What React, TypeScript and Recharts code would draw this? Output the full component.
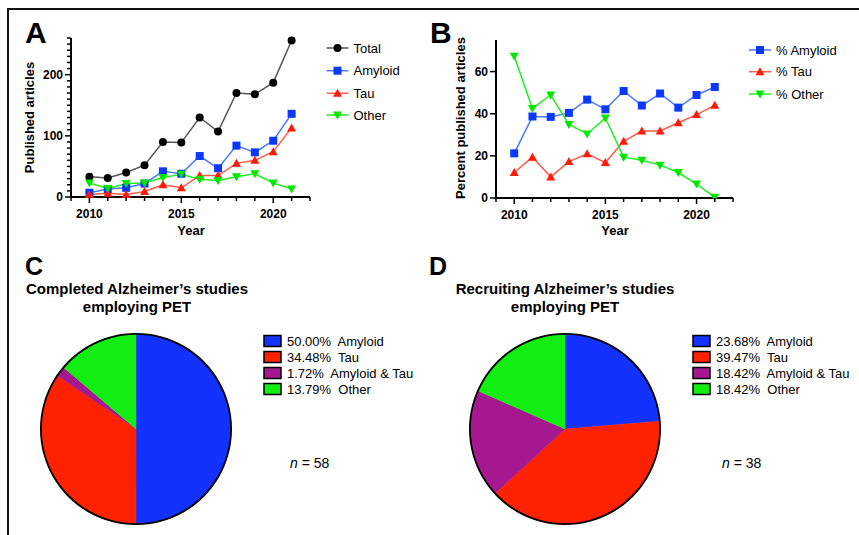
import { Cell, Line, LineChart, Pie, PieChart, XAxis, YAxis } from "recharts"

const F = "'Liberation Sans', Arial, Helvetica, sans-serif"

// panel A / B data
const years = [2010, 2011, 2012, 2013, 2014, 2015, 2016, 2017, 2018, 2019, 2020, 2021]
const total = [33, 31, 40, 52, 90, 89, 130, 107, 170, 168, 187, 256]
const amyloid = [7, 13, 15, 22, 42, 38, 67, 47, 84, 73, 92, 136]
const tau = [4, 6, 4, 9, 20, 15, 35, 35, 55, 60, 74, 113]
const other = [23, 14, 22, 23, 32, 37, 29, 27, 33, 38, 23, 13]

const pctAmyloid = [21.2, 38.7, 38.5, 40.4, 46.7, 42.1, 50.8, 43.9, 49.6, 42.9, 48.9, 52.7]
const pctTau = [12.1, 19.4, 10, 17.3, 21, 16.8, 26.9, 31.8, 31.8, 35.7, 39.6, 44]
const pctOther = [67.3, 42.5, 48.9, 34.9, 30.4, 38, 19.4, 17.9, 15.6, 12.1, 6.6, 0.4]

// ticks
const yearTicks = [2009, 2010, 2011, 2012, 2013, 2014, 2015, 2016, 2017, 2018, 2019, 2020, 2021, 2022]
const yearLabels = [2010, 2015, 2020]
const countTicks = [0, 10, 20, 30, 40, 50, 60, 70, 80, 90, 100, 110, 120, 130, 140, 150, 160, 170, 180, 190, 200, 210, 220, 230, 240, 250, 260]
const countLabels = [0, 100, 200]
const pctTicks = [0, 20, 40, 60]

// panel C / D data
const pieLabels = ["Amyloid", "Tau", "Amyloid & Tau", "Other"]
const completed = [50.0, 34.48, 1.72, 13.79]
const recruiting = [23.68, 39.47, 18.42, 18.42]
const pieColors = ["#1432ff", "#ff2200", "#a5188f", "#12ee12"]

const seriesA = [
  { key: "total", name: "Total", shape: "circle", line: "#555555", mark: "#000000" },
  { key: "amyloid", name: "Amyloid", shape: "square", line: "#4a78ff", mark: "#0a38ff" },
  { key: "tau", name: "Tau", shape: "up", line: "#ff5a4a", mark: "#ff1a0a" },
  { key: "other", name: "Other", shape: "down", line: "#22ee22", mark: "#00e600" },
]
const seriesB = [
  { key: "pctAmyloid", name: "% Amyloid", shape: "square", line: "#4a78ff", mark: "#0a38ff" },
  { key: "pctTau", name: "% Tau", shape: "up", line: "#ff5a4a", mark: "#ff1a0a" },
  { key: "pctOther", name: "% Other", shape: "down", line: "#22ee22", mark: "#00e600" },
]

const dataA = years.map((year, i) => ({ year, total: total[i], amyloid: amyloid[i], tau: tau[i], other: other[i] }))
const dataB = years.map((year, i) => ({ year, pctAmyloid: pctAmyloid[i], pctTau: pctTau[i], pctOther: pctOther[i] }))
const dataC = pieLabels.map((name, i) => ({ name, value: completed[i] }))
const dataD = pieLabels.map((name, i) => ({ name, value: recruiting[i] }))
const ring = [{ name: "outline", value: 1 }]

function Marker({ shape, cx, cy, fill }: any) {
  if (shape === "circle") return <circle cx={cx} cy={cy} r={4} fill={fill} />
  if (shape === "square") return <rect x={cx - 4} y={cy - 4} width={8} height={8} fill={fill} />
  if (shape === "up") return <polygon points={`${cx},${cy - 4.5} ${cx + 4.5},${cy + 3.5} ${cx - 4.5},${cy + 3.5}`} fill={fill} />
  return <polygon points={`${cx},${cy + 4.5} ${cx + 4.5},${cy - 3.5} ${cx - 4.5},${cy - 3.5}`} fill={fill} />
}

const dotFor = (shape: string, fill: string) => (props: any) => (
  <g key={`${shape}-${props.index}`}>
    <Marker shape={shape} cx={props.cx} cy={props.cy} fill={fill} />
  </g>
)

function XTick({ x, y, payload }: any) {
  const major = yearLabels.includes(payload.value)
  return (
    <g>
      <line x1={x} x2={x} y1={y} y2={y + (major ? 6 : 4)} stroke="#000" strokeWidth={1.5} />
      {major && (
        <text x={x} y={y + 21} textAnchor="middle" fontFamily={F} fontWeight="bold" fontSize={12} fill="#000">
          {payload.value}
        </text>
      )}
    </g>
  )
}

const makeYTick = (labels: number[]) => ({ x, y, payload }: any) => {
  const major = labels.includes(payload.value)
  return (
    <g>
      <line x1={x - (major ? 6 : 4)} x2={x} y1={y} y2={y} stroke="#000" strokeWidth={1.5} />
      {major && (
        <text x={x - 8} y={y + 4.3} textAnchor="end" fontFamily={F} fontWeight="bold" fontSize={12} fill="#000">
          {payload.value}
        </text>
      )}
    </g>
  )
}
const YTickA = makeYTick(countLabels)
const YTickB = makeYTick(pctTicks)

const axisLine = { stroke: "#000", strokeWidth: 2 }

function LineLegend({ items, x, ys }: any) {
  return (
    <g>
      {items.map((s: any, i: number) => (
        <g key={s.key}>
          <line x1={x - 11} x2={x + 11} y1={ys[i]} y2={ys[i]} stroke={s.line} strokeWidth={1.5} />
          <Marker shape={s.shape} cx={x} cy={ys[i]} fill={s.mark} />
          <text x={x + 16} y={ys[i] + 4.6} fontFamily={F} fontSize={13} fill="#000">
            {s.name}
          </text>
        </g>
      ))}
    </g>
  )
}

function PieLegend({ x, values }: any) {
  const ys = [341, 357, 373, 389]
  return (
    <g>
      {values.map((v: number, i: number) => (
        <g key={i}>
          <rect x={x} y={ys[i] - 5.5} width={17} height={11} fill={pieColors[i]} stroke="#000" strokeWidth={1.5} />
          <text x={x + 23} y={ys[i] + 4.6} fontFamily={F} fontSize={13} fill="#000" style={{ whiteSpace: "pre" }}>
            {`${v.toFixed(2)}%  ${pieLabels[i]}`}
          </text>
        </g>
      ))}
    </g>
  )
}

function LinePanel({ data, series, domain, yTicks, YTick, margin }: any) {
  return (
    <LineChart width={430} height={240} data={data} margin={margin}>
      <XAxis
        dataKey="year"
        type="number"
        domain={[2009, 2022]}
        ticks={yearTicks}
        interval={0}
        height={30}
        tickSize={0}
        tickMargin={0}
        tickLine={false}
        axisLine={axisLine}
        tick={(p: any) => <XTick {...p} />}
      />
      <YAxis
        type="number"
        domain={domain}
        ticks={yTicks}
        interval={0}
        width={60}
        tickSize={0}
        tickMargin={0}
        tickLine={false}
        axisLine={axisLine}
        tick={(p: any) => <YTick {...p} />}
      />
      {series.map((s: any) => (
        <Line
          key={s.key}
          type="linear"
          dataKey={s.key}
          stroke={s.line}
          strokeWidth={1.5}
          dot={dotFor(s.shape, s.mark)}
          activeDot={false}
          isAnimationActive={false}
        />
      ))}
    </LineChart>
  )
}

function PiePanel({ data, cx }: any) {
  return (
    <PieChart width={430} height={295} margin={{ top: 0, right: 0, bottom: 0, left: 0 }}>
      <Pie
        data={data}
        dataKey="value"
        cx={cx}
        cy={189}
        outerRadius={95}
        startAngle={90}
        endAngle={-270}
        isAnimationActive={false}
      >
        {data.map((d: any, i: number) => (
          <Cell key={d.name} fill={pieColors[i]} stroke={pieColors[i]} strokeWidth={0.5} />
        ))}
      </Pie>
      <Pie
        data={ring}
        dataKey="value"
        cx={cx}
        cy={189}
        innerRadius={94.2}
        outerRadius={96}
        startAngle={90}
        endAngle={-270}
        fill="#000"
        stroke="none"
        isAnimationActive={false}
      />
    </PieChart>
  )
}

export default function App() {
  return (
    <div style={{ position: "absolute", left: 0, top: 0, width: 859, height: 535, background: "#fff", overflow: "hidden", fontFamily: F }}>
      <div style={{ position: "absolute", left: 0, top: 0 }}>
        <LinePanel
          data={dataA}
          series={seriesA}
          domain={[0, 260]}
          yTicks={countTicks}
          YTick={YTickA}
          margin={{ top: 38, right: 120, bottom: 13, left: 11 }}
        />
      </div>
      <div style={{ position: "absolute", left: 430, top: 0 }}>
        <LinePanel
          data={dataB}
          series={seriesB}
          domain={[0, 75]}
          yTicks={pctTicks}
          YTick={YTickB}
          margin={{ top: 40, right: 127, bottom: 12, left: 6 }}
        />
      </div>
      <div style={{ position: "absolute", left: 0, top: 240 }}>
        <PiePanel data={dataC} cx={136} />
      </div>
      <div style={{ position: "absolute", left: 430, top: 240 }}>
        <PiePanel data={dataD} cx={135} />
      </div>
      <svg width={859} height={535} style={{ position: "absolute", left: 0, top: 0, pointerEvents: "none" }}>
        <line x1={7} x2={859} y1={9} y2={9} stroke="#111" strokeWidth={2} />
        <line x1={8} x2={8} y1={8} y2={535} stroke="#111" strokeWidth={2} />

        <text x={25} y={43.3} fontFamily={F} fontWeight="bold" fontSize={30}>A</text>
        <text x={430} y={43.3} fontFamily={F} fontWeight="bold" fontSize={30}>B</text>
        <text x={25} y={274.5} fontFamily={F} fontWeight="bold" fontSize={25}>C</text>
        <text x={429} y={274.5} fontFamily={F} fontWeight="bold" fontSize={25}>D</text>

        <text transform="translate(34,117.5) rotate(-90)" textAnchor="middle" fontFamily={F} fontWeight="bold" fontSize={13}>
          Published articles
        </text>
        <text x={191} y={234.6} textAnchor="middle" fontFamily={F} fontWeight="bold" fontSize={13}>Year</text>
        <text transform="translate(465,118) rotate(-90)" textAnchor="middle" fontFamily={F} fontWeight="bold" fontSize={13}>
          Percent published articles
        </text>
        <text x={615} y={234.6} textAnchor="middle" fontFamily={F} fontWeight="bold" fontSize={13}>Year</text>

        <LineLegend items={seriesA} x={337.5} ys={[48, 70.7, 93.3, 115]} />
        <LineLegend items={seriesB} x={760} ys={[50, 71.7, 94]} />

        <text x={137} y={294} textAnchor="middle" fontFamily={F} fontWeight="bold" fontSize={15}>Completed Alzheimer’s studies</text>
        <text x={137} y={311.7} textAnchor="middle" fontFamily={F} fontWeight="bold" fontSize={15}>employing PET</text>
        <text x={565} y={294} textAnchor="middle" fontFamily={F} fontWeight="bold" fontSize={15}>Recruiting Alzheimer’s studies</text>
        <text x={565} y={311.7} textAnchor="middle" fontFamily={F} fontWeight="bold" fontSize={15}>employing PET</text>

        <PieLegend x={264} values={completed} />
        <PieLegend x={693} values={recruiting} />

        <text x={290} y={468} fontFamily={F} fontSize={14}>
          <tspan fontStyle="italic">n</tspan> = 58
        </text>
        <text x={722} y={468} fontFamily={F} fontSize={14}>
          <tspan fontStyle="italic">n</tspan> = 38
        </text>
      </svg>
    </div>
  )
}
